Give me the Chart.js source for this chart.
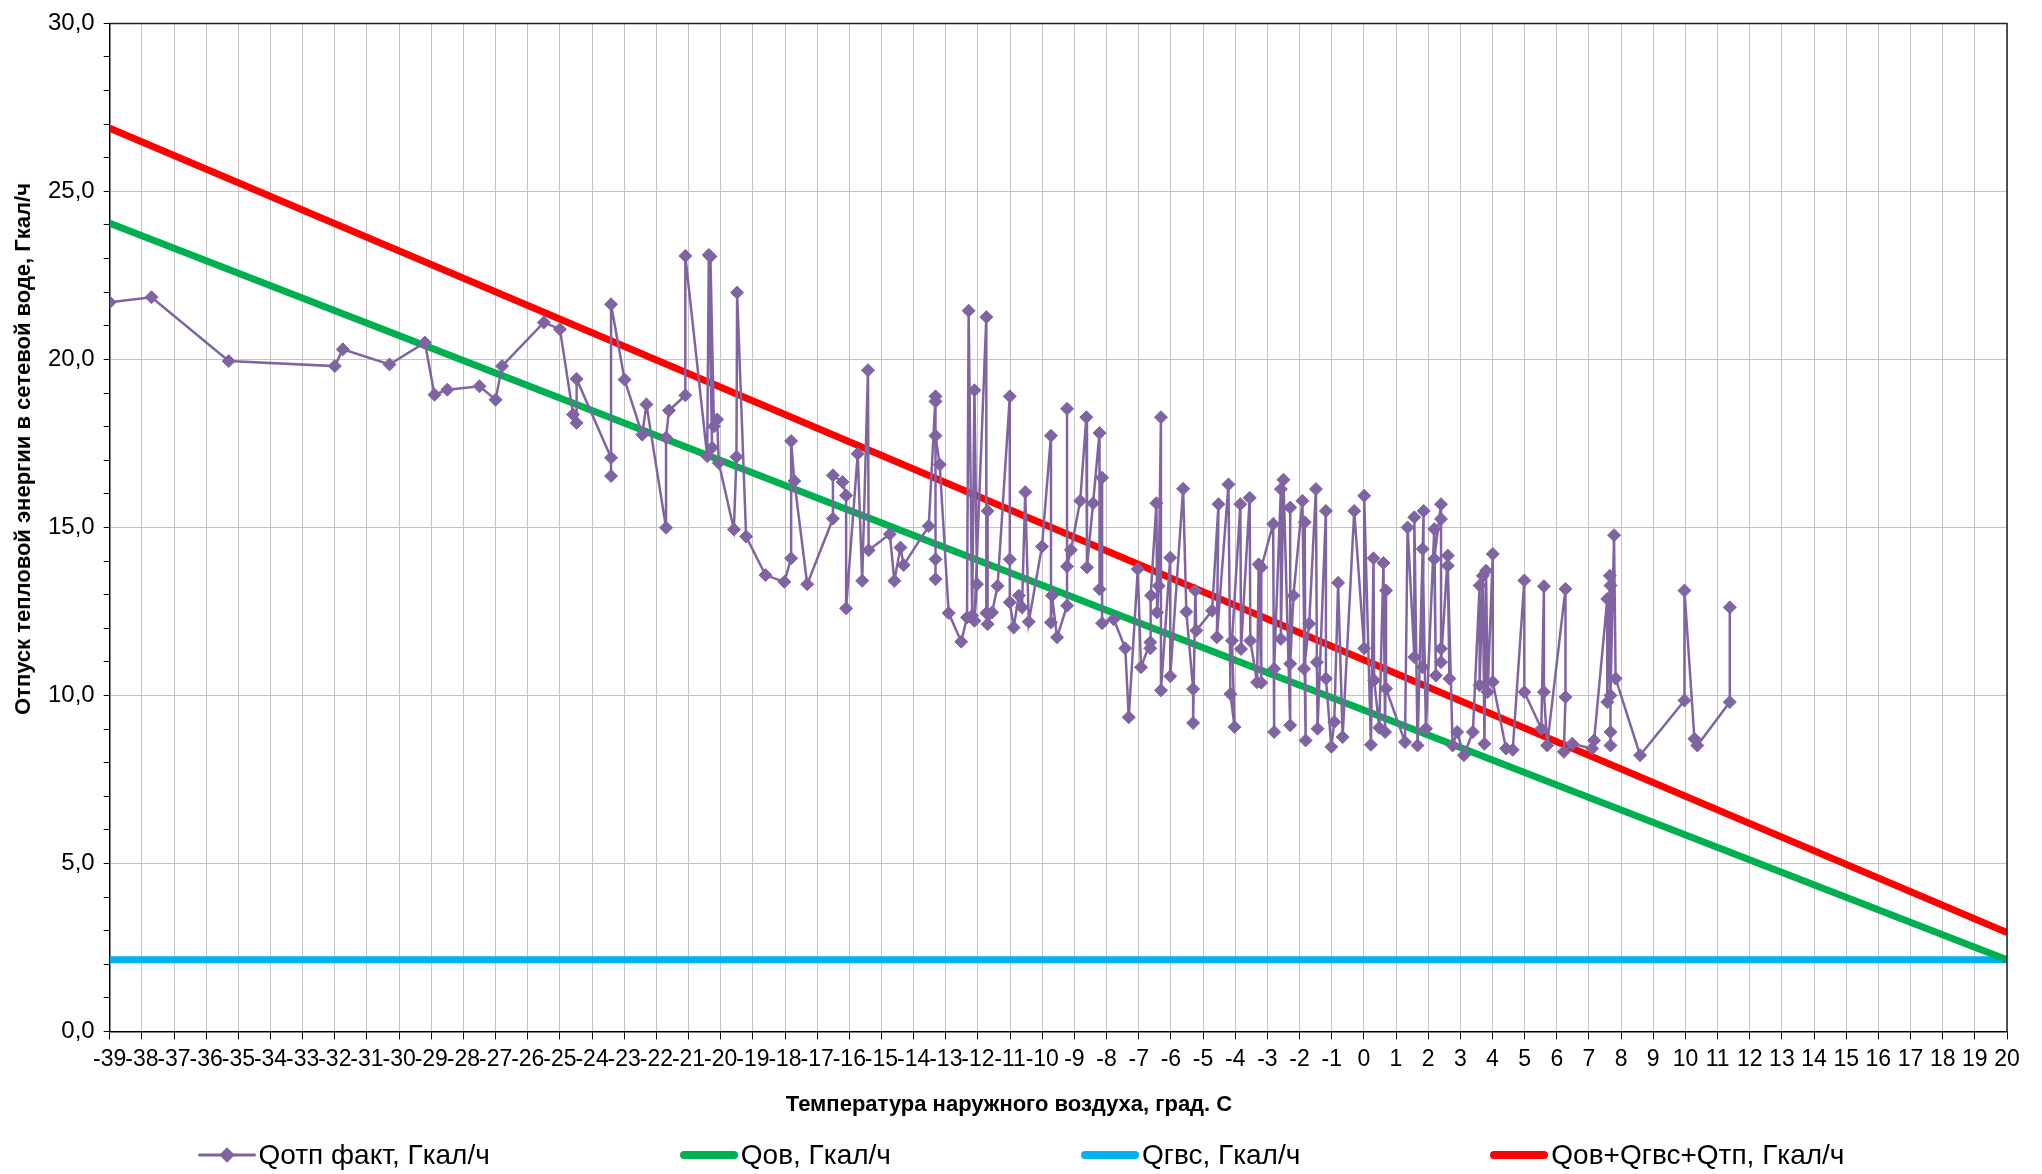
<!DOCTYPE html>
<html lang="ru">
<head>
<meta charset="UTF-8">
<title>Отпуск тепловой энергии в сетевой воде</title>
<script src="https://cdn.jsdelivr.net/npm/chart.js"></script>
<style>
  html, body { margin: 0; padding: 0; background: #fff; }
  #wrap { position: relative; width: 2042px; height: 1174px; font-family: 'Liberation Sans', Arial, sans-serif; color: #000; }
  #legend {
    position: absolute; left: 0; right: 0; top: 1136px; height: 38px;
    display: flex; justify-content: center; align-items: center; gap: 190px;
    font-size: 28px;
  }
  .item { display: flex; align-items: center; white-space: nowrap; }
  .mark { position: relative; width: 58px; height: 20px; margin-right: 3px; }
  .mark .ln { position: absolute; left: 0; right: 0; top: 50%; transform: translateY(-50%); border-radius: 5px; }
  .mark .dm { position: absolute; left: 50%; top: 50%; width: 11px; height: 11px; transform: translate(-50%, -50%) rotate(45deg); }
  .axis-title { position: absolute; font-weight: bold; font-size: 22px; white-space: nowrap; line-height: 24px; }
  #xTitle { left: 1009px; top: 1092px; transform: translateX(-50%); }
  #yTitle { left: 23px; top: 449px; transform: translate(-50%, -50%) rotate(-90deg); }
</style>
</head>
<body>
<div id="wrap">
  <canvas id="heatChart" width="2042" height="1174"></canvas>
  <div id="xTitle" class="axis-title"></div>
  <div id="yTitle" class="axis-title"></div>
  <div id="legend"></div>
</div>

<script>
// --- данные ---
const xAxisTitle = 'Температура наружного воздуха, град. С';
const yAxisTitle = 'Отпуск тепловой энергии в сетевой воде,  Гкал/ч';
const seriesNames = ['Qотп факт, Гкал/ч', 'Qов, Гкал/ч', 'Qгвс, Гкал/ч', 'Qов+Qгвс+Qтп, Гкал/ч'];
const seriesColors = ['#8064A2', '#00B050', '#00B0F0', '#FF0000'];

// фактический отпуск: температура наружного воздуха и Q (в порядке записи)
const factTemp = [
  -39.0, -37.7, -35.3, -32.0, -31.75, -30.3, -29.2, -28.9, -28.5, -27.5, -27.0, -26.8, -25.5, -25.0,
  -24.59, -24.48, -24.48, -23.41, -23.41, -23.41, -22.99, -22.44, -22.31, -21.7, -21.7, -21.61,
  -21.1, -21.1, -20.42, -20.37, -20.27, -20.32, -20.21, -20.11, -20.06, -19.59, -19.51, -19.49,
  -19.21, -18.61, -18.02, -17.81, -17.81, -17.71, -17.31, -16.51, -16.51, -16.21, -16.1, -16.1,
  -15.74, -15.6, -15.42, -15.4, -14.74, -14.6, -14.41, -14.31, -13.53, -13.32, -13.32, -13.32,
  -13.32, -13.32, -13.19, -12.91, -12.52, -12.34, -12.29, -12.18, -12.11, -12.03, -12.11, -11.74,
  -11.74, -11.7, -11.7, -11.56, -11.39, -11.01, -11.01, -11.01, -10.89, -10.73, -10.63, -10.53,
  -10.42, -10.01, -9.73, -9.73, -9.7, -9.54, -9.23, -9.23, -9.23, -9.11, -8.82, -8.63, -8.61,
  -8.42, -8.22, -8.22, -8.14, -8.14, -7.78, -7.42, -7.31, -7.03, -6.93, -6.64, -6.64, -6.62,
  -6.45, -6.43, -6.38, -6.31, -6.31, -6.02, -6.02, -5.62, -5.52, -5.31, -5.31, -5.24, -5.21,
  -4.72, -4.52, -4.57, -4.21, -4.15, -4.02, -4.1, -3.84, -3.82, -3.55, -3.53, -3.32, -3.27,
  -3.19, -3.19, -2.82, -2.79, -2.79, -2.58, -2.58, -2.5, -2.29, -2.29, -2.29, -2.19, -1.91,
  -1.81, -1.84, -1.86, -1.7, -1.49, -1.46, -1.44, -1.18, -1.18, -1.01, -0.92, -0.8, -0.66,
  -0.3, 0.01, 0.01, 0.22, 0.3, 0.32, 0.48, 0.61, 0.66, 0.69, 0.69, 1.28, 1.36, 1.57, 1.57,
  1.67, 1.86, 1.83, 1.83, 1.93, 2.19, 2.24, 2.19, 2.4, 2.4, 2.4, 2.4, 2.61, 2.66, 2.61, 2.76,
  2.9, 3.11, 3.39, 3.6, 3.6, 3.7, 3.75, 3.8, 3.85, 4.01, 4.01, 4.42, 4.63, 4.99, 4.99, 5.52,
  5.6, 5.6, 5.7, 6.27, 6.27, 6.22, 6.48, 7.1, 7.16, 7.57, 7.57, 7.65, 7.67, 7.67, 7.67, 7.67,
  7.78, 7.83, 8.59, 9.97, 9.97, 10.28, 10.37, 11.38, 11.38
];
const factQ = [
  21.7, 21.85, 19.95, 19.8, 20.3, 19.85, 20.5, 18.95, 19.1, 19.2, 18.8, 19.8, 21.1, 20.9,
  18.36, 18.11, 19.42, 17.07, 16.53, 21.64, 19.4, 17.76, 18.66, 14.99, 17.67, 18.48,
  18.93, 23.08, 17.12, 23.11, 17.37, 23.06, 18.01, 18.21, 16.92, 14.94, 17.1, 21.99,
  14.73, 13.58, 13.38, 14.08, 17.57, 16.38, 13.31, 15.26, 16.55, 16.35, 15.95, 12.59,
  17.19, 13.41, 19.68, 14.32, 14.8, 13.41, 14.4, 13.88, 15.04, 18.9, 18.75, 14.05,
  13.46, 17.73, 16.87, 12.45, 11.6, 12.32, 21.45, 12.37, 19.08, 13.31, 12.22, 21.26,
  12.45, 15.49, 12.12, 12.47, 13.26, 18.9, 14.05, 12.77, 12.02, 12.97, 12.62, 16.05,
  12.19, 14.43, 17.73, 12.17, 12.97, 11.73, 12.67, 18.53, 13.84, 14.33, 15.79, 18.28, 13.81,
  15.72, 17.81, 13.16, 16.48, 12.15, 12.27, 11.4, 9.35, 13.76, 10.84, 11.58, 11.4, 12.97,
  15.72, 12.47, 13.26, 18.28, 10.15, 14.1, 10.57, 16.15, 12.49, 10.19, 9.18, 13.12, 11.93,
  12.52, 15.69, 11.73, 16.28, 10.04, 9.06, 11.63, 15.69, 11.38, 15.88, 11.63, 10.39, 13.9,
  10.38, 13.81, 15.1, 8.91, 10.79, 16.14, 11.68, 16.42, 9.11, 15.59, 10.94, 12.97, 15.79,
  8.66, 15.15, 10.79, 12.13, 16.14, 10.99, 9.01, 15.49, 10.5, 8.47, 9.21, 13.35, 8.76,
  15.49, 11.4, 15.94, 8.53, 14.08, 10.45, 9.04, 13.94, 8.91, 13.12, 10.2, 8.61, 15.0, 11.14, 15.3,
  8.51, 15.49, 10.84, 14.36, 9.01, 14.95, 10.59, 14.06, 15.69, 11.39, 15.25, 10.99, 14.16, 10.5, 13.86, 8.51,
  8.91, 8.22, 8.91, 13.27, 10.3, 13.56, 8.56, 13.71, 10.1, 14.21, 10.4, 8.42, 8.38, 13.42, 10.1, 9.01,
  13.25, 10.1, 8.51, 13.17, 9.95, 8.32, 8.56, 8.42, 8.66, 12.87, 9.8, 13.56, 8.91, 13.27, 8.51, 10.0,
  14.77, 10.5, 8.22, 9.85, 13.12, 8.71, 8.51, 9.8, 12.62
];

// расчётные линии (концы отрезков)
const lineTemp = [-39, 20];
const qOv = [24.05, 2.13];
const qGvs = [2.13, 2.13];
const qSum = [26.88, 2.94];

// --- построение ---
const FONT = "'Liberation Sans', Arial, sans-serif";
const toPoints = (xs, ys) => xs.map((x, i) => ({ x: x, y: ys[i] }));

const frame = {
  id: 'frame',
  afterDatasetsDraw(chart) {
    const { ctx, chartArea: a } = chart;
    ctx.save();
    ctx.strokeStyle = '#222';
    ctx.lineWidth = 1.5;
    ctx.beginPath();
    ctx.moveTo(a.left, a.top);
    ctx.lineTo(a.right, a.top);
    ctx.lineTo(a.right, a.bottom);
    ctx.stroke();
    ctx.restore();
  }
};

new Chart(document.getElementById('heatChart').getContext('2d'), {
  type: 'line',
  data: {
    datasets: [
      { label: seriesNames[0], data: toPoints(factTemp, factQ), borderColor: seriesColors[0], backgroundColor: seriesColors[0],
        borderWidth: 2.5, pointStyle: 'rectRot', pointRadius: 6.5, pointBorderWidth: 1, tension: 0 },
      { label: seriesNames[1], data: toPoints(lineTemp, qOv), borderColor: seriesColors[1], borderWidth: 7, pointRadius: 0, tension: 0 },
      { label: seriesNames[2], data: toPoints(lineTemp, qGvs), borderColor: seriesColors[2], borderWidth: 7, pointRadius: 0, tension: 0 },
      { label: seriesNames[3], data: toPoints(lineTemp, qSum), borderColor: seriesColors[3], borderWidth: 7, pointRadius: 0, tension: 0 }
    ]
  },
  options: {
    responsive: false,
    animation: false,
    layout: { padding: { left: 39, right: 35, top: 17, bottom: 95 } },
    plugins: { legend: { display: false }, tooltip: { enabled: false } },
    scales: {
      x: {
        type: 'linear', min: -39, max: 20,
        ticks: { stepSize: 1, autoSkip: false, maxRotation: 0, minRotation: 0, maxTicksLimit: 100, padding: 6,
                 color: '#000', font: { family: FONT, size: 23 }, callback: v => String(v) },
        grid: { color: '#c4c4c4', lineWidth: 1, tickColor: '#000', tickLength: 8 },
        border: { color: '#000', width: 1.5 }
      },
      y: {
        min: 0, max: 30,
        ticks: { stepSize: 1, autoSkip: false, maxTicksLimit: 100, padding: 9, color: '#000',
                 font: { family: FONT, size: 24 },
                 callback: v => (v % 5 === 0 ? v.toFixed(1).replace('.', ',') : '') },
        grid: { color: c => (c.tick && c.tick.value % 5 === 0 ? '#c4c4c4' : 'rgba(0,0,0,0)'),
                lineWidth: 1, tickColor: '#000', tickLength: 6 },
        border: { color: '#000', width: 1.5 }
      }
    }
  },
  plugins: [frame]
});

// подписи осей
document.getElementById('xTitle').textContent = xAxisTitle;
document.getElementById('yTitle').textContent = yAxisTitle;

// легенда
const legend = document.getElementById('legend');
seriesNames.forEach((name, i) => {
  const item = document.createElement('div');
  item.className = 'item';
  const mark = document.createElement('span');
  mark.className = 'mark';
  const ln = document.createElement('span');
  ln.className = 'ln';
  ln.style.background = seriesColors[i];
  ln.style.height = i === 0 ? '3px' : '8px';
  mark.appendChild(ln);
  if (i === 0) {
    const dm = document.createElement('span');
    dm.className = 'dm';
    dm.style.background = seriesColors[i];
    mark.appendChild(dm);
  }
  item.appendChild(mark);
  const txt = document.createElement('span');
  txt.textContent = name;
  item.appendChild(txt);
  legend.appendChild(item);
});
</script>
</body>
</html>
